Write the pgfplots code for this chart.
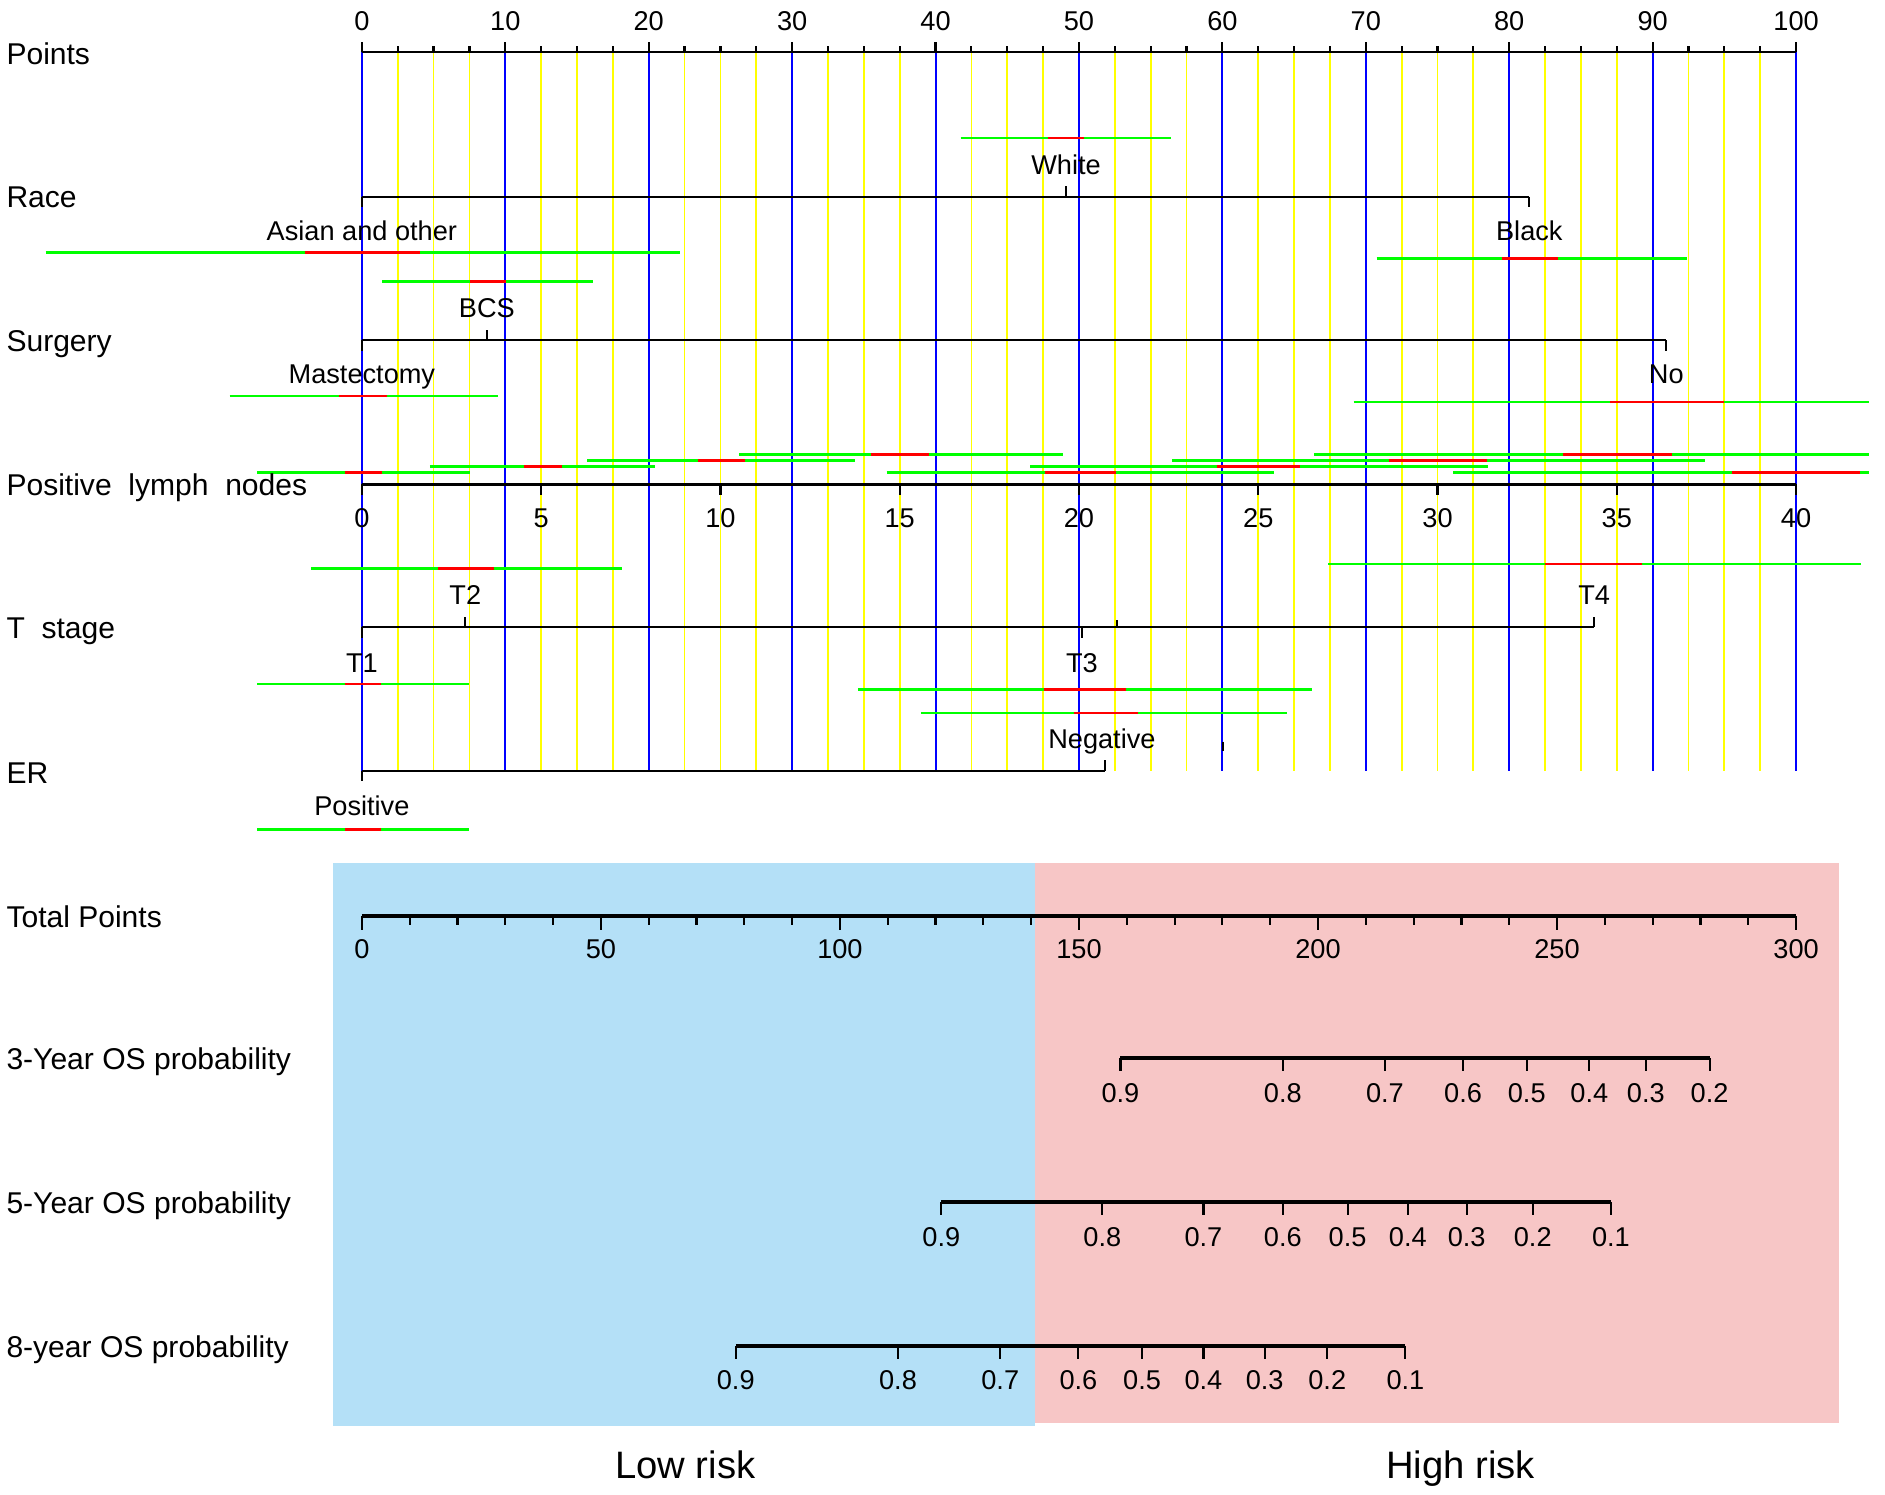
\documentclass[border=0pt]{standalone}
\usepackage{fontspec}
\setmainfont{Liberation Sans}
\usepackage{pgfplots}
\usepackage{pgfplotstable}
\pgfplotsset{compat=1.18}

\definecolor{lowrisk}{RGB}{180,224,247}
\definecolor{highrisk}{RGB}{247,198,198}
\definecolor{cigreen}{RGB}{0,255,0}
\definecolor{cired}{RGB}{255,0,0}
\definecolor{gblue}{RGB}{0,0,255}
\definecolor{gyellow}{RGB}{255,255,0}

\newcommand\labfont{\fontsize{12.5}{15}\selectfont}
\newcommand\valfont{\fontsize{11.3}{13.5}\selectfont}
\newcommand\riskfont{\fontsize{15.9}{19}\selectfont}

% x = position on the 0-100 Points scale, y = vertical position (top down)
\pgfplotsset{
  tick down/.style={draw=none, forget plot,
    error bars/y dir=plus, error bars/y fixed=#1, error bars/error mark=none,
    error bars/error bar style={draw=black, line width=0.9pt}},
  tick up/.style={draw=none, forget plot,
    error bars/y dir=minus, error bars/y fixed=#1, error bars/error mark=none,
    error bars/error bar style={draw=black, line width=0.9pt}},
  vline/.style 2 args={draw=none, forget plot,
    error bars/y dir=plus, error bars/y fixed=597.5, error bars/error mark=none,
    error bars/error bar style={draw=#1, line width=#2}},
  scale line/.style={black, line width=0.9pt},
  os line/.style={black, line width=1.5pt},
}
\newcommand\vl[3]{\node[anchor=base, font=\valfont] at (axis cs:#1,#2) {#3};}
\newcommand\lab[2]{\node[anchor=base west, inner sep=0pt, font=\labfont] at (axis cs:-24.81,#1) {#2};}

% confidence intervals: green = lo..hi, red = rlo..rhi
\pgfplotstableread{
lo hi rlo rhi y
41.74 56.41 47.86 50.38 115
-22.05 22.21 -3.94 4.02 210
70.75 92.37 79.46 83.40 215
1.42 16.09 7.54 10.06 234
-9.22 9.47 -1.59 1.76 329.5
69.15 105.11 87.01 94.97 334.5
-7.29 7.54 -1.17 1.38 393
4.75 20.45 11.28 13.96 388
15.73 34.37 23.44 26.69 383
26.31 48.87 35.50 39.55 378
36.59 63.60 47.61 52.61 393
46.61 78.53 59.60 65.38 388
56.50 93.63 71.63 78.42 383
66.37 105.09 83.72 91.32 378
76.11 105.09 95.56 104.43 393
-3.52 18.11 5.34 9.22 473
67.38 104.53 82.48 89.27 469
-7.29 7.46 -1.17 1.34 569
34.59 66.22 47.53 53.28 573.5
38.98 64.52 49.62 54.13 593
-7.29 7.46 -1.17 1.34 690
}\citable

\begin{document}
\begin{tikzpicture}
\begin{axis}[
  width=784pt, height=618.5pt, scale only axis,
  xmin=-25.23, xmax=106.20,
  ymin=0, ymax=1237, y dir=reverse,
  hide axis, clip=false,
]
% page extent
\addplot [draw=none, forget plot] coordinates {(-25.23,0) (106.20,1237)};

% risk areas
\addplot [fill=lowrisk, draw=none] coordinates {(-2.01,718) (46.94,718) (46.94,1186) (-2.01,1186)} -- cycle;
\addplot [fill=highrisk, draw=none] coordinates {(46.94,717.6) (103.02,717.6) (103.02,1184) (46.94,1184)} -- cycle;

% reference lines
\addplot [vline={gyellow}{0.75pt}] coordinates {
  (2.5,43.5) (5,43.5) (7.5,43.5) (12.5,43.5) (15,43.5) (17.5,43.5)
  (22.5,43.5) (25,43.5) (27.5,43.5) (32.5,43.5) (35,43.5) (37.5,43.5)
  (42.5,43.5) (45,43.5) (47.5,43.5) (52.5,43.5) (55,43.5) (57.5,43.5)
  (62.5,43.5) (65,43.5) (67.5,43.5) (72.5,43.5) (75,43.5) (77.5,43.5)
  (82.5,43.5) (85,43.5) (87.5,43.5) (92.5,43.5) (95,43.5) (97.5,43.5)};
\addplot [vline={gblue}{0.85pt}] coordinates {
  (0,43.5) (10,43.5) (20,43.5) (30,43.5) (40,43.5) (50,43.5)
  (60,43.5) (70,43.5) (80,43.5) (90,43.5) (100,43.5)};

% confidence intervals
\addplot [draw=none, error bars/x dir=plus, error bars/x explicit, error bars/error mark=none,
  error bars/error bar style={draw=cigreen, line width=1pt}]
  table [x=lo, y=y, x error expr=\thisrow{hi}-\thisrow{lo}] {\citable};
\addplot [draw=none, error bars/x dir=plus, error bars/x explicit, error bars/error mark=none,
  error bars/error bar style={draw=cired, line width=1pt}]
  table [x=rlo, y=y, x error expr=\thisrow{rhi}-\thisrow{rlo}] {\citable};

% Points
\addplot [scale line] coordinates {(0,43.5) (100,43.5)};
\addplot [tick up=8.5] coordinates {(0,43.5) (10,43.5) (20,43.5) (30,43.5) (40,43.5) (50,43.5)
  (60,43.5) (70,43.5) (80,43.5) (90,43.5) (100,43.5)};
\addplot [tick up=5] coordinates {
  (2.5,43.5) (5,43.5) (7.5,43.5) (12.5,43.5) (15,43.5) (17.5,43.5)
  (22.5,43.5) (25,43.5) (27.5,43.5) (32.5,43.5) (35,43.5) (37.5,43.5)
  (42.5,43.5) (45,43.5) (47.5,43.5) (52.5,43.5) (55,43.5) (57.5,43.5)
  (62.5,43.5) (65,43.5) (67.5,43.5) (72.5,43.5) (75,43.5) (77.5,43.5)
  (82.5,43.5) (85,43.5) (87.5,43.5) (92.5,43.5) (95,43.5) (97.5,43.5)};
\pgfplotsinvokeforeach{0,10,...,100}{\node[anchor=base, font=\valfont] at (axis cs:#1,25) {#1};}

% Race, Surgery, T stage, ER
\addplot [scale line] coordinates {(0,163.6) (81.4,163.6)};
\addplot [scale line] coordinates {(0,283) (90.95,283)};
\addplot [scale line] coordinates {(0,521.5) (85.92,521.5)};
\addplot [scale line] coordinates {(0,641) (51.84,641)};
\addplot [tick down=9] coordinates {(0,163.6) (81.4,163.6) (0,283) (90.95,283)
  (0,521.5) (50.21,521.5) (0,641)};
\addplot [tick up=8.5] coordinates {(49.1,163.6) (8.72,283) (7.21,521.5) (85.92,521.5) (51.84,641)};
\addplot [tick up=6] coordinates {(52.64,521.5)};
\addplot [scale line, forget plot] coordinates {(60.03,617) (60.03,624.4)};

\vl{49.1}{145}{White}
\vl{0}{200}{Asian and other}
\vl{81.4}{200}{Black}
\vl{8.72}{264}{BCS}
\vl{0}{319}{Mastectomy}
\vl{90.95}{319}{No}
\vl{7.21}{503}{T2}
\vl{85.92}{503}{T4}
\vl{0}{559}{T1}
\vl{50.21}{559}{T3}
\vl{51.6}{623}{Negative}
\vl{0}{678}{Positive}

% Positive lymph nodes (0-40)
\addplot [scale line] coordinates {(0,403) (100,403)};
\addplot [tick down=8.5] coordinates {(0,403) (12.5,403) (25,403) (37.5,403) (50,403)
  (62.5,403) (75,403) (87.5,403) (100,403)};
\vl{0}{438.5}{0}
\vl{12.5}{438.5}{5}
\vl{25}{438.5}{10}
\vl{37.5}{438.5}{15}
\vl{50}{438.5}{20}
\vl{62.5}{438.5}{25}
\vl{75}{438.5}{30}
\vl{87.5}{438.5}{35}
\vl{100}{438.5}{40}

% Total Points (0-300)
\addplot [os line] coordinates {(0,762) (100,762)};
\addplot [tick down=11.6] table [row sep=\\, x expr=\thisrow{t}/3, y expr=762]
  {t\\0\\50\\100\\150\\200\\250\\300\\};
\addplot [tick down=7.5] table [row sep=\\, x expr=\thisrow{t}/3, y expr=762]
  {t\\10\\20\\30\\40\\60\\70\\80\\90\\110\\120\\130\\140\\160\\170\\180\\190\\210\\220\\230\\240\\260\\270\\280\\290\\};
\vl{0}{797}{0}
\vl{16.667}{797}{50}
\vl{33.333}{797}{100}
\vl{50}{797}{150}
\vl{66.667}{797}{200}
\vl{83.333}{797}{250}
\vl{100}{797}{300}

% 3-Year OS probability
\addplot [os line] coordinates {(52.89,880) (93.97,880)};
\addplot [tick down=11] coordinates {(52.89,880) (64.21,880) (71.33,880) (76.78,880)
  (81.22,880) (85.58,880) (89.52,880) (93.97,880)};
\vl{52.89}{917}{0.9}
\vl{64.21}{917}{0.8}
\vl{71.33}{917}{0.7}
\vl{76.78}{917}{0.6}
\vl{81.22}{917}{0.5}
\vl{85.58}{917}{0.4}
\vl{89.52}{917}{0.3}
\vl{93.97}{917}{0.2}

% 5-Year OS probability
\addplot [os line] coordinates {(40.40,1000) (87.09,1000)};
\addplot [tick down=11] coordinates {(40.40,1000) (51.63,1000) (58.68,1000) (64.21,1000)
  (68.73,1000) (72.93,1000) (77.03,1000) (81.64,1000) (87.09,1000)};
\vl{40.40}{1036.5}{0.9}
\vl{51.63}{1036.5}{0.8}
\vl{58.68}{1036.5}{0.7}
\vl{64.21}{1036.5}{0.6}
\vl{68.73}{1036.5}{0.5}
\vl{72.93}{1036.5}{0.4}
\vl{77.03}{1036.5}{0.3}
\vl{81.64}{1036.5}{0.2}
\vl{87.09}{1036.5}{0.1}

% 8-year OS probability
\addplot [os line] coordinates {(26.07,1119.6) (72.76,1119.6)};
\addplot [tick down=11] coordinates {(26.07,1119.6) (37.38,1119.6) (44.51,1119.6) (49.96,1119.6)
  (54.40,1119.6) (58.68,1119.6) (62.95,1119.6) (67.31,1119.6) (72.76,1119.6)};
\vl{26.07}{1155.5}{0.9}
\vl{37.38}{1155.5}{0.8}
\vl{44.51}{1155.5}{0.7}
\vl{49.96}{1155.5}{0.6}
\vl{54.40}{1155.5}{0.5}
\vl{58.68}{1155.5}{0.4}
\vl{62.95}{1155.5}{0.3}
\vl{67.31}{1155.5}{0.2}
\vl{72.76}{1155.5}{0.1}

% row labels
\lab{54}{Points}
\lab{173}{Race}
\lab{292}{Surgery}
\lab{412}{Positive\ \ lymph\ \ nodes}
\lab{531}{T\ \ stage}
\lab{651.5}{ER}
\lab{771.5}{Total Points}
\lab{889.5}{3-Year OS probability}
\lab{1009.5}{5-Year OS probability}
\lab{1129}{8-year OS probability}

\node[anchor=base, font=\riskfont] at (axis cs:22.55,1229.5) {Low risk};
\node[anchor=base, font=\riskfont] at (axis cs:76.61,1229.5) {High risk};
\end{axis}
\end{tikzpicture}
\end{document}
